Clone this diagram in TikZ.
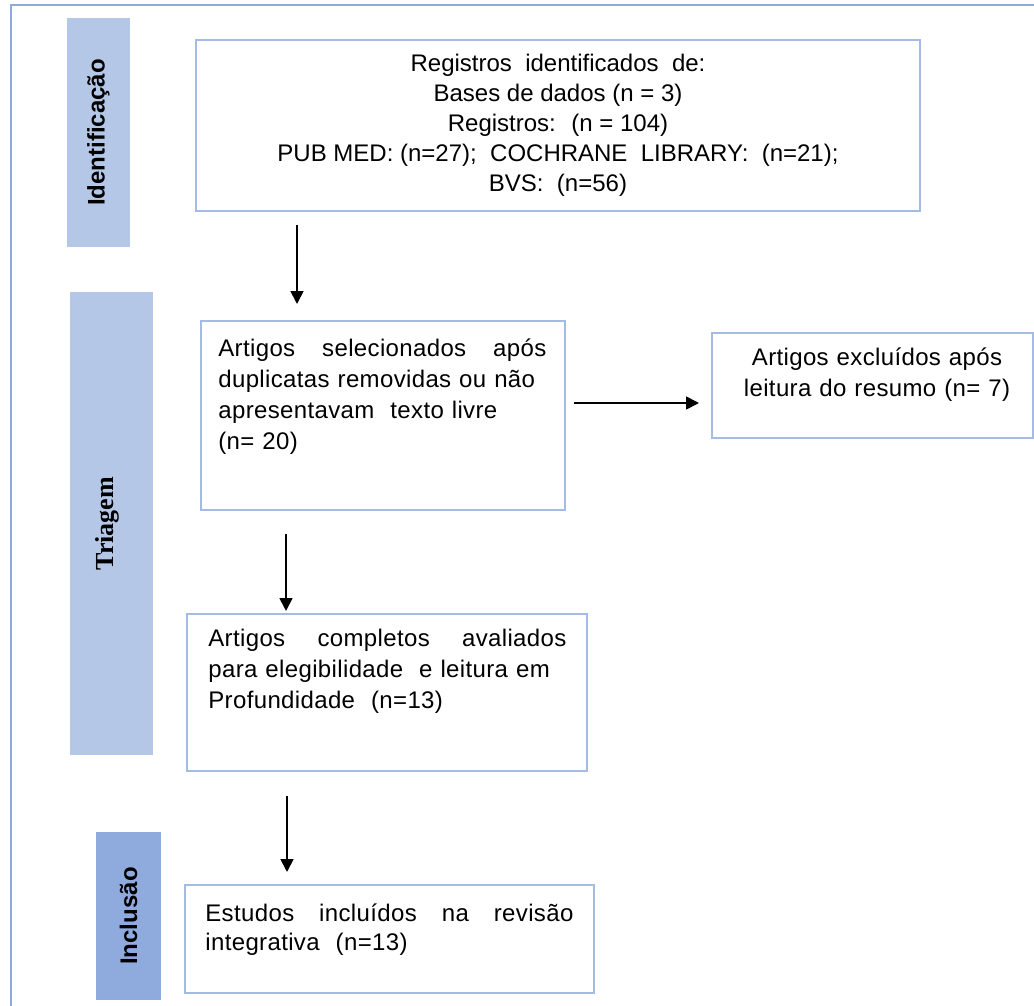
\documentclass[tikz,border=0pt]{standalone}
\usepackage{fontspec}
\setmainfont{Liberation Sans}
\newfontfamily\serifbold{Liberation Serif}
\newfontfamily\boxfont[LetterSpace=1.5]{Liberation Sans}
\usetikzlibrary{arrows.meta,fit}
\definecolor{framebl}{HTML}{8FAADC}
\definecolor{barbl}{HTML}{B4C7E7}
\definecolor{bardk}{HTML}{8FAADC}
\definecolor{boxbl}{HTML}{A4BBE4}

\begin{document}
\begin{tikzpicture}[x=0.5pt, y=-0.5pt, every node/.style={inner sep=0pt, font=\fontsize{12}{15}\selectfont},
	frame/.style={draw=boxbl, line width=1pt, rectangle, fit={#1}},
	bar/.style={fill=barbl, rectangle, fit={#1}},
	flow/.style={-{Triangle[length=6.5pt,width=6.5pt]}, line width=0.9pt},
	txt/.style={font=\fontsize{12}{15.5}\selectfont\boxfont, align=left, anchor=base west, text width=#1}]
	\useasboundingbox (0,0) rectangle (1034,1006);
	\draw[framebl, line width=1pt] (11,1006) -- (11,5) -- (1034,5);
	% side bars
	\node[bar={(67,18) (130,247)}] (idbar) {};
	\node[bar={(70,292) (153,755)}] (tribar) {};
	\node[bar={(96,832) (161,1000)}, fill=bardk] (incbar) {};
	\node[rotate=90, font=\fontsize{12}{14}\selectfont\bfseries] at (idbar.center) {Identificação};
	\node[rotate=90, font=\serifbold\fontsize{13}{16}\selectfont\bfseries] at ([xshift=-2pt]tribar.center) {Triagem};
	\node[rotate=90, font=\fontsize{12}{14}\selectfont\bfseries] at (incbar.center) {Inclusão};
	% boxes
	\node[frame={(196,40) (920,211)}] (ident) {};
	\node[frame={(201,321) (565,510)}] (selec) {};
	\node[frame={(712,333) (1033,438)}] (exclu) {};
	\node[frame={(187,614) (587,771)}] (compl) {};
	\node[frame={(185,885) (594,993)}] (inclu) {};
	\node[align=center] (identtxt) at (ident.center) {Registros \ identificados \ de:\\Bases de dados (n = 3)\\Registros: \ (n = 104)\\PUB MED: (n=27); \ COCHRANE \ LIBRARY: \ (n=21);\\BVS: \ (n=56)};
	\node[txt=164pt] (selectxt) at (218,356) {\noindent\hbox to 164pt{Artigos\hfill selecionados\hfill após}\\duplicatas removidas ou não\\apresentavam \ texto livre\\(n= 20)};
	\node[txt=160pt, align=center, anchor=base] (exclutxt) at (877,365) {Artigos excluídos após\\leitura do resumo (n= 7)};
	\node[txt=179pt] (compltxt) at (208,646) {\noindent\hbox to 179pt{Artigos\hfill completos\hfill avaliados}\\para elegibilidade \ e leitura em\\Profundidade \ (n=13)};
	\node[txt=184pt, font=\fontsize{12}{14.5}\selectfont\boxfont] (inclutxt) at (205,921) {\noindent\hbox to 184pt{Estudos\hfill incluídos\hfill na\hfill revisão}\\integrativa \ (n=13)};
	% arrows
	\coordinate (a1) at (297,0); \coordinate (a2) at (286,0); \coordinate (a3) at (287,0); \coordinate (ah) at (0,403);
	\draw[flow, shorten <=6.5pt, shorten >=8pt] (ident.south -| a1) -- (selec.north -| a1);
	\draw[flow, shorten <=4pt, shorten >=6pt] (selec.east |- ah) -- (exclu.west |- ah);
	\draw[flow, shorten <=11.5pt, shorten >=1pt] (selec.south -| a2) -- (compl.north -| a2);
	\draw[flow, shorten <=12pt, shorten >=6pt] (compl.south -| a3) -- (inclu.north -| a3);
\end{tikzpicture}
\end{document}
